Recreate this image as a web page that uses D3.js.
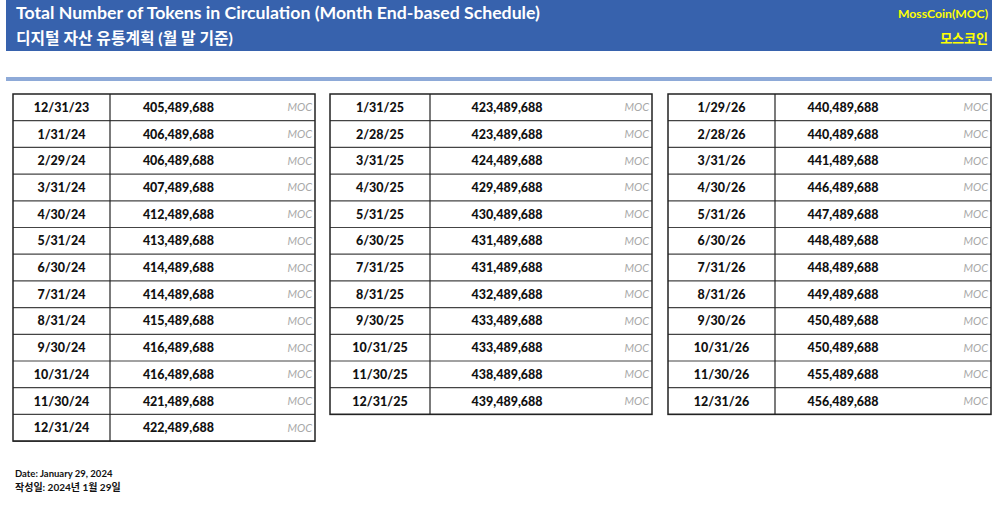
<!DOCTYPE html>
<html>
<head>
<meta charset="utf-8">
<script src="https://cdn.jsdelivr.net/npm/d3@7"></script>
<style>
html,body{margin:0;padding:0;background:#fff;}
svg{display:block;}
</style>
</head>
<body>
<svg id="sheet" width="1000" height="506"></svg>
<script>
// 월말 기준 유통량 데이터
var dates = ["12/31/23","1/31/24","2/29/24","3/31/24","4/30/24","5/31/24","6/30/24","7/31/24","8/31/24","9/30/24","10/31/24","11/30/24","12/31/24",
  "1/31/25","2/28/25","3/31/25","4/30/25","5/31/25","6/30/25","7/31/25","8/31/25","9/30/25","10/31/25","11/30/25","12/31/25",
  "1/29/26","2/28/26","3/31/26","4/30/26","5/31/26","6/30/26","7/31/26","8/31/26","9/30/26","10/31/26","11/30/26","12/31/26"];
var supply = [405489688,406489688,406489688,407489688,412489688,413489688,414489688,414489688,415489688,416489688,416489688,421489688,422489688,
  423489688,423489688,424489688,429489688,430489688,431489688,431489688,432489688,433489688,433489688,438489688,439489688,
  440489688,440489688,441489688,446489688,447489688,448489688,448489688,449489688,450489688,450489688,455489688,456489688];
var columnSizes = [13, 12, 12];
var unit = "MOC";
var titleEn = "Total Number of Tokens in Circulation (Month End-based Schedule)";
var titleKo = "디지털 자산 유통계획 (월 말 기준)";
var coinEn = "MossCoin(MOC)";
var coinKo = "모스코인";
var footerEn = "Date: January 29, 2024";
var footerKo = "작성일: 2024년 1월 29일";

var font = "Lato, 'Noto Sans CJK KR', sans-serif";
var svg = d3.select("#sheet");

// 헤더
svg.append("rect").attr("x",6).attr("y",0).attr("width",986).attr("height",51).attr("fill","#3762ad");
svg.append("rect").attr("x",6).attr("y",77).attr("width",986).attr("height",4).attr("fill","#8eaad8");
svg.append("text").attr("x",16).attr("y",19).attr("fill","#fff").style("font-family",font)
  .style("font-weight","bold").style("font-size","17.7px").text(titleEn);
svg.append("text").attr("x",16).attr("y",44).attr("fill","#fff").style("font-family",font)
  .style("font-weight","bold").style("font-size","15.8px").text(titleKo);
svg.append("text").attr("x",988).attr("y",18).attr("text-anchor","end").attr("fill","#ffff00").style("font-family",font)
  .style("font-weight","bold").style("font-size","12.2px").text(coinEn);
svg.append("text").attr("x",988).attr("y",43).attr("text-anchor","end").attr("fill","#ffff00").style("font-family",font)
  .style("font-weight","bold").style("font-size","13px").text(coinKo);

// 테이블 위치
var tables = [
  {x0:13, div:110, x1:315, valPos:0.334},
  {x0:330, div:430, x1:652, valPos:0.347},
  {x0:668, div:775, x1:991, valPos:0.315}
];
var rowY = d3.scaleBand().domain(d3.range(13)).range([94, 94 + 13*26.7]);
var fmt = d3.format(",");

var start = 0;
columnSizes.forEach(function(n, t){
  var tb = tables[t];
  var rows = d3.range(start, start + n).map(function(i, j){ return {date:dates[i], val:supply[i], r:j}; });
  start += n;
  var g = svg.append("g");
  var valX = d3.scaleLinear().domain([0,1]).range([tb.div, tb.x1]);

  var row = g.selectAll("g.row").data(rows).enter().append("g").attr("class","row");
  row.append("line").attr("x1",tb.x0).attr("x2",tb.x1)
    .attr("y1",function(d){ return rowY(d.r)+rowY.bandwidth(); })
    .attr("y2",function(d){ return rowY(d.r)+rowY.bandwidth(); })
    .attr("stroke","#444").attr("stroke-width",1.2);
  row.append("text").attr("x",(tb.x0+tb.div)/2)
    .attr("y",function(d){ return rowY(d.r)+rowY.bandwidth()/2+4.5; })
    .attr("text-anchor","middle").style("font-family",font).style("font-weight","900").style("font-size","12.5px")
    .attr("fill","#111").text(function(d){ return d.date; });
  row.append("text").attr("x",valX(tb.valPos))
    .attr("y",function(d){ return rowY(d.r)+rowY.bandwidth()/2+4.5; })
    .attr("text-anchor","middle").style("font-family",font).style("font-weight","900").style("font-size","12.5px")
    .attr("fill","#111").text(function(d){ return fmt(d.val); });
  row.append("text").attr("x",tb.x1-3)
    .attr("y",function(d){ return rowY(d.r)+rowY.bandwidth()/2+4; })
    .attr("text-anchor","end").style("font-family",font).style("font-style","italic").style("font-size","11px")
    .attr("fill","#a8a8a8").text(unit);

  var bottom = rowY(n-1)+rowY.bandwidth();
  g.append("rect").attr("x",tb.x0).attr("y",94).attr("width",tb.x1-tb.x0).attr("height",bottom-94)
    .attr("fill","none").attr("stroke","#222").attr("stroke-width",1.5);
  g.append("line").attr("x1",tb.div).attr("x2",tb.div).attr("y1",94).attr("y2",bottom)
    .attr("stroke","#222").attr("stroke-width",1.2);
});

// 하단 작성일
svg.append("text").attr("x",15).attr("y",477).attr("fill","#111").style("font-family",font)
  .style("font-weight","bold").style("font-size","9.5px").text(footerEn);
svg.append("text").attr("x",15).attr("y",491).attr("fill","#111").style("font-family",font)
  .style("font-weight","bold").style("font-size","10px").text(footerKo);
</script>
</body>
</html>
